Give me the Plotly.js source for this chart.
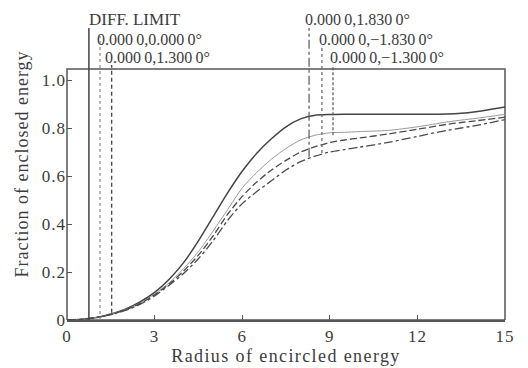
<!DOCTYPE html>
<html>
<head>
<meta charset="utf-8">
<script src="https://cdn.plot.ly/plotly-3.0.1.min.js"></script>
<style>
html,body{margin:0;padding:0;background:#fff;}
#chart{width:528px;height:368px;}
.xtitle{letter-spacing:1.4px;}
.ytitle{letter-spacing:1px;}
.xtick text,.ytick text{letter-spacing:1px;}
</style>
</head>
<body>
<div id="chart"></div>
<script>
// Radius of encircled energy (x values)
var radius = [0,0.5,1,1.5,2,2.5,3,3.5,4,4.5,5,5.5,6,6.5,7,7.5,8,8.5,9,9.5,10,11,12,13,13.5,14,15];
// Fraction of enclosed energy for each curve
var curveSolid   = [0,0.003,0.01,0.025,0.045,0.075,0.115,0.17,0.24,0.33,0.43,0.53,0.62,0.695,0.755,0.805,0.838,0.853,0.856,0.857,0.857,0.857,0.857,0.858,0.861,0.868,0.888];
var curveThin    = [0,0.003,0.01,0.024,0.043,0.07,0.108,0.155,0.215,0.285,0.37,0.46,0.55,0.615,0.67,0.715,0.75,0.77,0.78,0.782,0.785,0.79,0.805,0.825,0.833,0.84,0.857];
var curveDash    = [0,0.003,0.01,0.023,0.042,0.068,0.105,0.15,0.205,0.27,0.35,0.44,0.515,0.575,0.625,0.665,0.70,0.722,0.74,0.75,0.758,0.775,0.795,0.815,0.823,0.83,0.845];
var curveDashDot = [0,0.003,0.01,0.022,0.04,0.065,0.10,0.145,0.195,0.255,0.33,0.415,0.485,0.535,0.58,0.625,0.66,0.683,0.70,0.71,0.72,0.74,0.765,0.79,0.80,0.81,0.835];

// Field marker lines (vertical) and their labels
var markerX      = [0.75, 1.13, 1.53, 8.29, 8.73, 9.11];
var markerBottom = [0, 0, 0.03, 0.68, 0.696, 0.77];
var markerTop    = [1.217, 1.183, 1.0625, 1.217, 1.133, 1.0625];
var markerLabels = ['DIFF. LIMIT', '0.000\u20090,0.000\u20090\u00b0', '0.000\u20090,1.300\u20090\u00b0',
                    '0.000\u20090,1.830\u20090\u00b0', '0.000\u20090,\u22121.830\u20090\u00b0', '0.000\u20090,\u22121.300\u20090\u00b0'];

// Tick labels
var xTickVals = [0,3,6,9,12,15];
var xTickText = ['0','3','6','9','12','15'];
var yTickVals = [0,0.2,0.4,0.6,0.8,1.0];
var yTickText = ['0','0.2','0.4','0.6','0.8','1.0'];

var ink = '#3c3c3c';
var markerStyles = [
  {color:'#444', width:1.5, dash:'solid'},
  {color:'#888', width:1.2, dash:'dot'},
  {color:'#444', width:1.3, dash:'4px,3px'},
  {color:'#555', width:1.2, dash:'dashdot'},
  {color:'#666', width:1.2, dash:'dot'},
  {color:'#555', width:1.2, dash:'3px,2px'}
];
var labelPos = [
  {x:0.685, y:1.254}, {x:0.96, y:1.167}, {x:1.23, y:1.092},
  {x:8.08, y:1.254}, {x:8.56, y:1.167}, {x:8.94, y:1.092}
];

var traces = [
  {x:radius, y:curveSolid, mode:'lines', line:{color:'#444', width:1.5, shape:'spline', smoothing:0.7}},
  {x:radius, y:curveThin, mode:'lines', line:{color:'#9a9a9a', width:1, shape:'spline', smoothing:0.7}},
  {x:radius, y:curveDash, mode:'lines', line:{color:'#4a4a4a', width:1.3, dash:'7px,3px', shape:'spline', smoothing:0.7}},
  {x:radius, y:curveDashDot, mode:'lines', line:{color:'#4a4a4a', width:1.3, dash:'dashdot', shape:'spline', smoothing:0.7}}
];
for (var i = 0; i < markerX.length; i++) {
  traces.push({x:[markerX[i], markerX[i]], y:[markerBottom[i], markerTop[i]], mode:'lines',
               line:markerStyles[i]});
}
var annotations = markerLabels.map(function(t, i){
  return {x:labelPos[i].x, y:labelPos[i].y, xref:'x', yref:'y', text:t, showarrow:false,
          xanchor:'left', yanchor:'middle', font:{family:'Liberation Serif', size:i===0?17:16, color:ink}};
});

var layout = {
  width:528, height:368,
  margin:{l:67, r:23, t:8, b:48},
  paper_bgcolor:'#fff', plot_bgcolor:'#fff',
  showlegend:false,
  font:{family:'Liberation Serif', color:ink, size:16},
  xaxis:{range:[0,15], tickvals:xTickVals, ticktext:xTickText, ticks:'inside', ticklen:5,
         tickcolor:'#555', showgrid:false, zeroline:false, showline:true, linecolor:'#555', linewidth:1.5,
         tickfont:{family:'Liberation Serif', size:17, color:ink},
         title:{text:'Radius of encircled energy', font:{family:'Liberation Serif', size:18, color:ink}, standoff:4}},
  yaxis:{range:[0,1.3], tickvals:yTickVals, ticktext:yTickText, ticks:'inside', ticklen:5,
         tickcolor:'#555', showgrid:false, zeroline:false, showline:false,
         tickfont:{family:'Liberation Serif', size:17, color:ink},
         title:{text:'Fraction of enclosed energy', font:{family:'Liberation Serif', size:18, color:ink}, standoff:8}},
  shapes:[{type:'rect', xref:'x domain', yref:'y', x0:0, x1:1, y0:0, y1:1.046,
           line:{color:'#555', width:1.5}, fillcolor:'rgba(0,0,0,0)', layer:'below'}],
  annotations:annotations
};
Plotly.newPlot('chart', traces, layout, {staticPlot:true, displayModeBar:false});
</script>
</body>
</html>
